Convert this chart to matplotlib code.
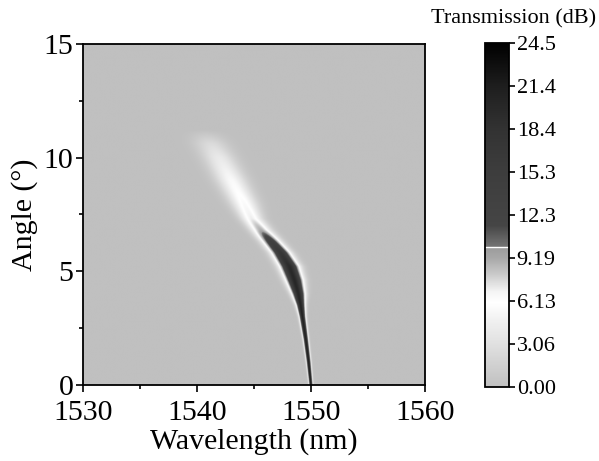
import numpy as np
import matplotlib
matplotlib.use("Agg")
import matplotlib.pyplot as plt
from matplotlib.colors import LinearSegmentedColormap

plt.rcParams['font.family'] = ['Liberation Serif', 'DejaVu Serif']

# Ridge of the transmission dip
ridge_angle = [0.0, 1.0, 2.0, 3.0, 3.5, 4.0, 4.6, 5.2, 5.8, 6.3, 6.8, 7.3, 8.0, 9.0, 10.0, 10.6, 11.2]
ridge_center = [1550.0, 1549.8, 1549.55, 1549.25, 1549.1, 1548.9, 1548.55, 1548.1, 1547.35,
                1546.5, 1545.6, 1544.8, 1544.1, 1543.0, 1541.9, 1541.2, 1540.6]
ridge_width = [0.1, 0.12, 0.14, 0.18, 0.25, 0.38, 0.5, 0.56, 0.56, 0.56, 0.6, 0.65, 0.8, 0.9,
               0.95, 1.0, 1.0]
ridge_peak = [21.5, 21.5, 21.0, 21.0, 20.5, 20.0, 20.0, 19.5, 17.0, 14.0, 9.0, 7.0, 6.3, 5.5,
              4.0, 2.5, 0.0]

cbar_ticks = [0.0, 3.0625, 6.125, 9.1875, 12.25, 15.3125, 18.375, 21.4375, 24.5]
cbar_labels = ['0.00', '3.06', '6.13', '9.19', '12.3', '15.3', '18.4', '21.4', '24.5']
vmax = 24.5
step_value = 10.0

cmap_nodes = [
    (0.0, '#c0c0c0'), (1.5, '#d0d0d0'), (3.0, '#e0e0e0'), (4.5, '#eeeeee'),
    (6.0, '#ffffff'), (6.8, '#f4f4f4'), (8.0, '#cacaca'), (9.19, '#a8a8a8'),
    (10.0, '#9a9a9a'), (10.0, '#747474'), (11.5, '#454545'), (15.3, '#3d3d3d'),
    (18.4, '#323232'), (21.4, '#1e1e1e'), (24.5, '#000000'),
]
cmap = LinearSegmentedColormap.from_list(
    'trans', [(v / vmax, c) for v, c in cmap_nodes], N=1024)

wl = np.linspace(1530, 1560, 1500)
ang = np.linspace(0, 15, 700)
c = np.interp(ang, ridge_angle, ridge_center)
w = np.interp(ang, ridge_angle, ridge_width)
p = np.interp(ang, ridge_angle, ridge_peak)
Z = p[:, None] * np.exp(-0.5 * ((wl[None, :] - c[:, None]) / w[:, None]) ** 2)

fig = plt.figure(figsize=(5.99, 4.61), dpi=100)
ax = fig.add_axes([0.1386, 0.1649, 0.5709, 0.7397])
im = ax.imshow(Z, origin='lower', extent=[1530, 1560, 0, 15], aspect='auto',
               cmap=cmap, vmin=0, vmax=vmax, interpolation='bilinear')
ax.set_xlim(1530, 1560)
ax.set_ylim(0, 15)
ax.set_xticks([1530, 1540, 1550, 1560])
ax.set_xticks([1535, 1545, 1555], minor=True)
ax.set_yticks([0, 5, 10, 15])
ax.set_yticks([2.5, 7.5, 12.5], minor=True)
ax.tick_params(which='both', direction='out', top=False, right=False,
               labelsize=21.5, width=1.2)
ax.tick_params(axis='x', which='major', length=5, pad=6)
ax.tick_params(axis='y', which='major', length=5, pad=2)
ax.tick_params(which='minor', length=3)
for s in ax.spines.values():
    s.set_linewidth(1.3)
ax.set_xlabel('Wavelength (nm)', fontsize=21.5, labelpad=1)
ax.set_ylabel('Angle (°)', fontsize=21.5, labelpad=4)

cax = fig.add_axes([0.8097, 0.1606, 0.0401, 0.7462])
cb = fig.colorbar(im, cax=cax)
cb.set_ticks(cbar_ticks)
cb.set_ticklabels(cbar_labels)
cb.minorticks_off()
cax.tick_params(labelsize=16, direction='out', length=4.5, width=1.2, pad=1)
cb.outline.set_linewidth(1.3)
cax.axhline(step_value, color='white', lw=1)
fig.text(0.857, 0.959, 'Transmission (dB)', fontsize=16, ha='center', va='center')

fig.savefig('out.png', dpi=100)
